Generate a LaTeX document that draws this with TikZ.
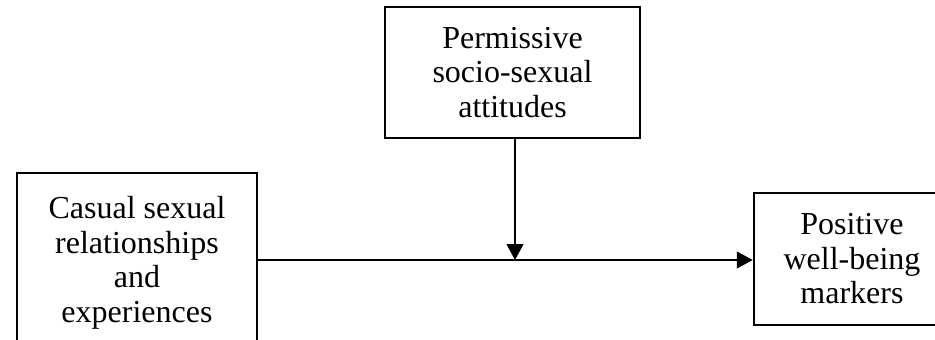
\documentclass[tikz,border=0pt]{standalone}
\usepackage{fontspec}
\setmainfont{Liberation Serif}
\usetikzlibrary{arrows.meta}
\begin{document}
\begin{tikzpicture}[x=1pt,y=-1pt,
  varbox/.style={draw, rectangle, line width=2.5pt, inner sep=0pt, align=center,
    font=\fontsize{32}{34.5}\selectfont},
  link/.style={line width=1.2pt, -{Triangle[length=16pt,width=17pt]}}]
\useasboundingbox (0,0) rectangle (935,340);
\clip (0,0) rectangle (935,340);
\node[varbox, minimum width=255pt, minimum height=131pt] (T) at (512.5,72.5)
  {Permissive\\socio-sexual\\attitudes};
\node[varbox, minimum width=240pt, minimum height=180pt] (L) at (137,263)
  {Casual sexual\\relationships\\and\\experiences};
\node[varbox, minimum width=196pt, minimum height=132pt] (R) at (852,259)
  {Positive\\well-being\\markers};
\coordinate (M) at (515,260);
\draw[link] (L.east |- M) -- (R.west |- M);
\draw[link] (T.south -| M) -- (M);
\end{tikzpicture}
\end{document}
